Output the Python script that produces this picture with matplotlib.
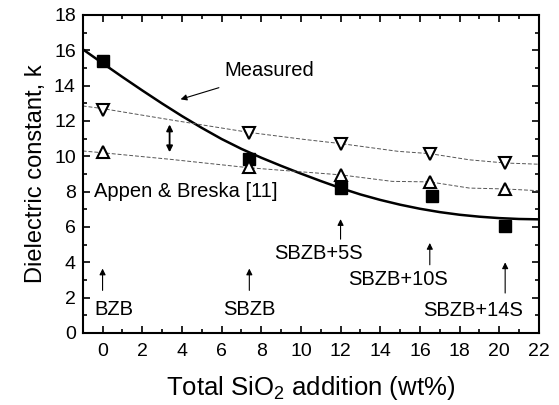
import numpy as np
import matplotlib.pyplot as plt
from matplotlib.ticker import MultipleLocator

plt.rcParams['font.family'] = ['Liberation Sans', 'DejaVu Sans']
plt.rcParams['mathtext.fontset'] = 'custom'
plt.rcParams['mathtext.rm'] = 'Liberation Sans'

# measured samples
x_meas = [0, 7.4, 12, 16.6, 20.3]
k_meas = [15.4, 9.85, 8.2, 7.75, 6.05]

# Appen & Breska estimates (upper / lower bound)
x_calc = [0, 7.4, 12, 16.5, 20.3]
k_upper = [12.6, 11.3, 10.72, 10.15, 9.6]
k_lower = [10.22, 9.42, 8.95, 8.55, 8.15]

# dashed guide lines
x_up_line = [-1, 0, 3.5, 7.4, 10.2, 12, 14.9, 16.5, 18.5, 20.3, 22]
k_up_line = [12.85, 12.7, 12.05, 11.35, 10.95, 10.72, 10.28, 10.15, 9.8, 9.62, 9.55]
x_lo_line = [-1, 0, 3.4, 7.4, 9.9, 12, 14.6, 16.5, 18.5, 20.3, 22]
k_lo_line = [10.3, 10.2, 9.83, 9.35, 9.13, 8.95, 8.58, 8.55, 8.2, 8.15, 8.05]

# solid "Measured" curve
x_fit = [-1, 0, 1, 2, 3, 4, 5, 6, 7, 8, 9, 10, 11, 12,
         13, 14, 15, 16, 17, 18, 19, 20, 21, 22]
k_fit = [16.06, 15.27, 14.49, 13.73, 12.99, 12.28, 11.61, 10.98, 10.42, 9.92, 9.46, 9.02, 8.6, 8.2,
         7.84, 7.53, 7.26, 7.03, 6.84, 6.69, 6.58, 6.5, 6.45, 6.43]

samples = ['BZB', 'SBZB', 'SBZB+5S', 'SBZB+10S', 'SBZB+14S']
arrow_x = [0, 7.4, 12, 16.5, 20.3]
arrow_y0 = [2.25, 2.25, 5.15, 3.7, 2.1]
arrow_y1 = [3.8, 3.8, 6.6, 5.25, 4.15]
label_x = [-0.4, 7.4, 10.9, 14.9, 18.7]
label_y = [1.3, 1.3, 4.5, 3.0, 1.25]

fig = plt.figure(figsize=(5.59, 4.05), dpi=100)
ax = fig.add_axes([0.148, 0.178, 0.816, 0.785])

ax.plot(x_fit, k_fit, color='k', lw=1.8)
ax.plot(x_up_line, k_up_line, color='#555555', lw=0.7, ls=(0, (4, 2)))
ax.plot(x_lo_line, k_lo_line, color='#555555', lw=0.7, ls=(0, (4, 2)))
ax.plot(x_meas, k_meas, 's', color='k', ms=8)
ax.plot(x_calc, k_upper, 'v', mfc='white', mec='k', mew=1.5, ms=9)
ax.plot(x_calc, k_lower, '^', mfc='white', mec='k', mew=1.5, ms=9)

fs = 14.5
ax.text(6.15, 14.85, 'Measured', fontsize=fs, ha='left', va='center')
ax.annotate('', xy=(3.8, 13.18), xytext=(6.0, 13.93),
            arrowprops=dict(arrowstyle='-|>', color='k', lw=0.8, mutation_scale=9))
ax.annotate('', xy=(3.38, 10.07), xytext=(3.38, 11.96),
            arrowprops=dict(arrowstyle='<|-|>', color='k', lw=1.3, mutation_scale=9))
ax.text(-0.45, 8.0, 'Appen & Breska [11]', fontsize=fs, ha='left', va='center')

for s, xa, y0, y1, xl, yl in zip(samples, arrow_x, arrow_y0, arrow_y1, label_x, label_y):
    ax.annotate('', xy=(xa, y1), xytext=(xa, y0),
                arrowprops=dict(arrowstyle='-|>', color='k', lw=0.8, mutation_scale=9))
    ax.text(xl, yl, s, fontsize=fs, ha='left' if s == 'BZB' else 'center', va='center')

ax.set_xlim(-1, 22)
ax.set_ylim(0, 18)
ax.xaxis.set_major_locator(MultipleLocator(2))
ax.xaxis.set_minor_locator(MultipleLocator(1))
ax.yaxis.set_major_locator(MultipleLocator(2))
ax.yaxis.set_minor_locator(MultipleLocator(1))
ax.tick_params(which='both', direction='in', top=True, right=True, width=1.2, labelsize=14)
ax.tick_params(axis='x', pad=7)
ax.tick_params(axis='y', pad=5)
ax.tick_params(which='major', length=5)
ax.tick_params(which='minor', length=3)
for sp in ax.spines.values():
    sp.set_linewidth(1.5)

ax.set_xlabel('Total SiO$_2$ addition (wt%)', fontsize=18.5, labelpad=10)
ax.set_ylabel('Dielectric constant, k', fontsize=17, labelpad=5)

fig.savefig('out.png', dpi=100)
